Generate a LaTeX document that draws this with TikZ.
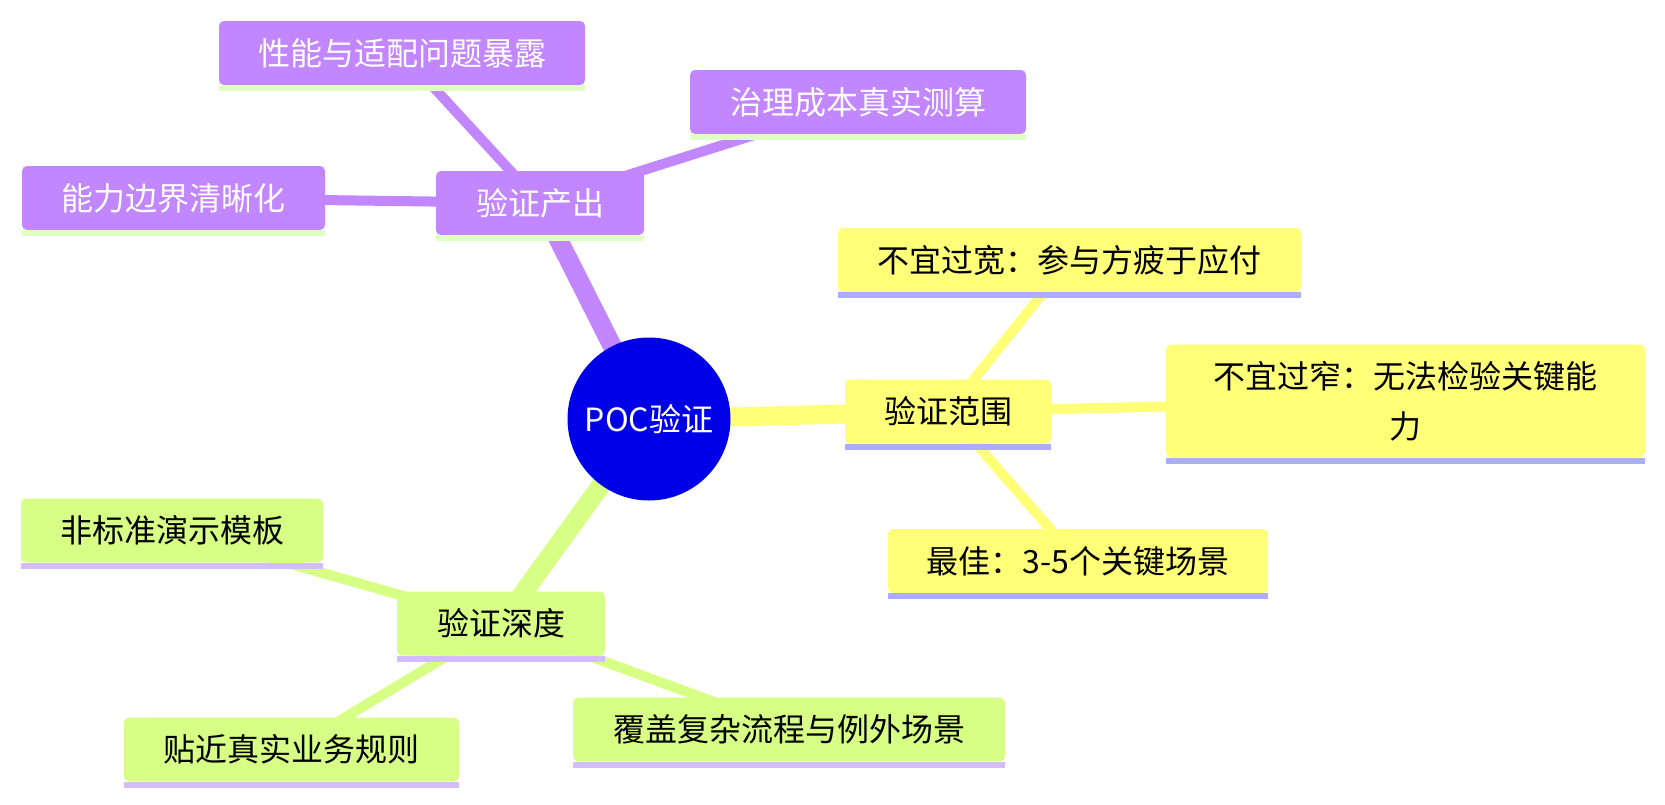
\documentclass[tikz,border=0pt]{standalone}
\usepackage{fontspec}
\setmainfont{Noto Sans CJK SC}
\usetikzlibrary{backgrounds}
\definecolor{rootc}{HTML}{0000E8}
\definecolor{purp}{HTML}{C286FF}
\definecolor{yell}{HTML}{FFFF78}
\definecolor{gree}{HTML}{D7FF86}
\definecolor{pline}{HTML}{DFFFC4}
\definecolor{yline}{HTML}{ADADFF}
\definecolor{gline}{HTML}{D3BCFF}
\begin{document}
\begin{tikzpicture}[x=1pt,y=-1pt,
  box/.style={rounded corners=5pt, inner sep=0pt, font=\fontsize{32}{50}\selectfont, align=center, minimum height=64pt},
  pbox/.style={box, fill=purp, text=white},
  ybox/.style={box, fill=yell, text=black},
  gbox/.style={box, fill=gree, text=black},
  rootedge/.style={line width=19pt},
  childedge/.style={line width=10pt},
  pedge/.style={draw=purp},
  yedge/.style={draw=yell},
  gedge/.style={draw=gree}]
\useasboundingbox (0,0) rectangle (1665,804);

% root
\node[circle, fill=rootc, text=white, minimum size=163pt, inner sep=0pt, font=\fontsize{32}{40}\selectfont] (root) at (649,419) {POC验证};

% purple branch
\node[pbox, minimum width=208pt] (out) at (540,203) {验证产出};
\node[pbox, minimum width=366pt] (p1) at (402,53) {性能与适配问题暴露};
\node[pbox, minimum width=336pt] (p2) at (858,102) {治理成本真实测算};
\node[pbox, minimum width=303pt] (p3) at (173.5,198) {能力边界清晰化};

% yellow branch
\node[ybox, minimum width=206pt] (scope) at (948,411.5) {验证范围};
\node[ybox, minimum width=463pt] (y1) at (1069.5,260) {不宜过宽：参与方疲于应付};
\node[ybox, minimum width=479pt, minimum height=113pt] (y2) at (1405.5,401) {不宜过窄：无法检验关键能\\力};
\node[ybox, minimum width=380pt] (y3) at (1078,561) {最佳：3-5个关键场景};

% green branch
\node[gbox, minimum width=208pt] (depth) at (501,623.5) {验证深度};
\node[gbox, minimum width=302pt] (g1) at (172,530.5) {非标准演示模板};
\node[gbox, minimum width=335pt] (g2) at (291.5,749.5) {贴近真实业务规则};
\node[gbox, minimum width=432pt] (g3) at (789,729.5) {覆盖复杂流程与例外场景};

% underlines
\foreach \n/\c in {out/pline,p1/pline,p2/pline,p3/pline,scope/yline,y1/yline,y2/yline,y3/yline,depth/gline,g1/gline,g2/gline,g3/gline}
  \fill[\c] (\n.south west) rectangle ([yshift=-6pt]\n.south east);

\begin{pgfonlayer}{background}
\draw[rootedge, pedge] (root.center) -- (out.center);
\draw[rootedge, yedge] (root.center) -- (scope.center);
\draw[rootedge, gedge] (root.center) -- (depth.center);
\draw[childedge, pedge] (out.center) -- (p1.center);
\draw[childedge, pedge] (out.center) -- (p2.center);
\draw[childedge, pedge] (out.center) -- (p3.center);
\draw[childedge, yedge] (scope.center) -- (y1.center);
\draw[childedge, yedge] (scope.center) -- (y2.center);
\draw[childedge, yedge] (scope.center) -- (y3.center);
\draw[childedge, gedge] (depth.center) -- (g1.center);
\draw[childedge, gedge] (depth.center) -- (g2.center);
\draw[childedge, gedge] (depth.center) -- (g3.center);
\end{pgfonlayer}
\end{tikzpicture}
\end{document}
